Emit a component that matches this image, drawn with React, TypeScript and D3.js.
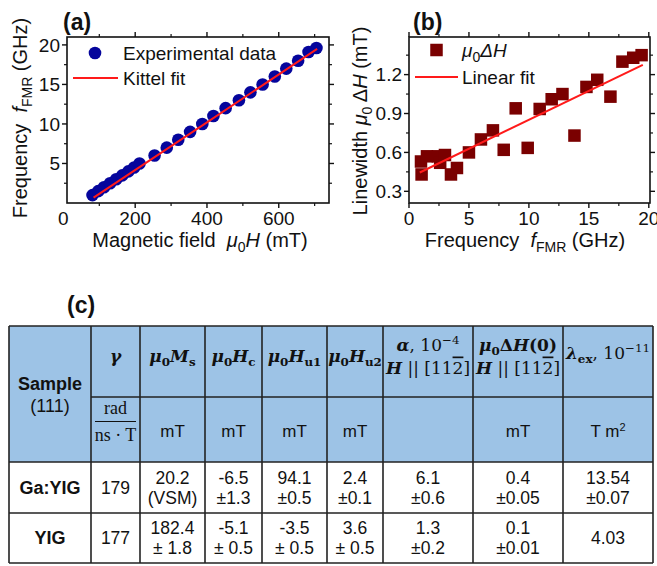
import React from "react"
import * as d3 from "d3"

// panel (a): FMR frequency vs field
const fieldA = [81, 97, 113, 130, 147, 164, 181, 197, 212, 254, 288, 320, 353, 387, 418, 452, 489, 521, 555, 589, 621, 654, 683, 705]
const freqA = [1, 1.5, 2, 2.5, 3, 3.5, 4, 4.5, 5, 6, 7, 8, 9, 10, 11, 12, 13, 14, 15, 16, 17, 18, 19.1, 19.6]
const kittelField = [84, 400, 707]
const kittelFreq = [0.67, 10.2, 19.5]
const xTicksA = [0, 200, 400, 600]
const yTicksA = [5, 10, 15, 20]

// panel (b): linewidth vs frequency
const freqB = [1, 1.05, 1.5, 2.4, 2.6, 3, 3.5, 4, 5, 6, 7, 7.9, 8.9, 9.9, 10.9, 11.9, 12.8, 13.8, 14.8, 15.7, 16.8, 17.8, 18.7, 19.4]
const lwB = [0.53, 0.43, 0.57, 0.57, 0.52, 0.58, 0.43, 0.48, 0.6, 0.7, 0.77, 0.62, 0.94, 0.635, 0.935, 1.01, 1.05, 0.73, 1.105, 1.16, 1.03, 1.3, 1.33, 1.35]
const fitFreqB = [0.9, 19.5]
const fitLwB = [0.445, 1.275]
const xTicksB = [0, 5, 10, 15, 20]
const yTicksB = [0.3, 0.6, 0.9, 1.2]

// panel (c): table
const sampleNames = ["Ga:YIG", "YIG"]
const gaYig = [["179"], ["20.2", "(VSM)"], ["-6.5", "±1.3"], ["94.1", "±0.5"], ["2.4", "±0.1"], ["6.1", "±0.6"], ["0.4", "±0.05"], ["13.54", "±0.07"]]
const yig = [["177"], ["182.4", "± 1.8"], ["-5.1", "± 0.5"], ["-3.5", "± 0.5"], ["3.6", "± 0.5"], ["1.3", "±0.2"], ["0.1", "±0.01"], ["4.03"]]
const units = ["", "mT", "mT", "mT", "mT", "", "mT", "T m²"]

const SANS = "'Liberation Sans', Arial, sans-serif"
const SERIF = "'Liberation Serif', 'Times New Roman', serif"
const MATH = "'DejaVu Serif', serif"
const BLUE = "#05059c"
const MAROON = "#7a0000"
const RED = "#ff1a1a"
const HEAD = "#9dc3e6"

const Axes = ({ x, y, xTicks, yTicks, xMinor, yMinor, xFmt, yFmt }: any) => {
  const [x0, x1] = x.range()
  const [y0, y1] = y.range()
  const tk = 5
  return (
    <g fontFamily={SANS} fontSize={19} fill="#111">
      {yMinor.map((v: number) => (
        <g key={"ym" + v}>
          <line x1={x0} x2={x0 - 3} y1={y(v)} y2={y(v)} stroke="#111" strokeWidth={1.2} />
          <line x1={x1} x2={x1 + 3} y1={y(v)} y2={y(v)} stroke="#111" strokeWidth={1.2} />
        </g>
      ))}
      {xMinor.map((v: number) => (
        <g key={"xm" + v}>
          <line x1={x(v)} x2={x(v)} y1={y0} y2={y0 + 3} stroke="#111" strokeWidth={1.2} />
          <line x1={x(v)} x2={x(v)} y1={y1} y2={y1 - 3} stroke="#111" strokeWidth={1.2} />
        </g>
      ))}
      {yTicks.map((v: number) => (
        <g key={"y" + v}>
          <line x1={x0} x2={x0 - tk} y1={y(v)} y2={y(v)} stroke="#111" strokeWidth={1.4} />
          <line x1={x1} x2={x1 + tk} y1={y(v)} y2={y(v)} stroke="#111" strokeWidth={1.4} />
          <text x={x0 - 7} y={y(v)} dy="0.35em" textAnchor="end">{yFmt(v)}</text>
        </g>
      ))}
      {xTicks.map((v: number) => (
        <g key={"x" + v}>
          {x(v) >= x0 - 0.5 && (
            <>
              <line x1={x(v)} x2={x(v)} y1={y0} y2={y0 + tk} stroke="#111" strokeWidth={1.4} />
              <line x1={x(v)} x2={x(v)} y1={y1} y2={y1 - tk} stroke="#111" strokeWidth={1.4} />
            </>
          )}
          <text x={x(v)} y={y0 + 22} textAnchor="middle">{xFmt(v)}</text>
        </g>
      ))}
      <rect x={x0} y={y1} width={x1 - x0} height={y0 - y1} fill="none" stroke="#111" strokeWidth={1.6} />
    </g>
  )
}

const PanelA = () => {
  const x = d3.scaleLinear().domain([10, 740]).range([67, 329])
  const y = d3.scaleLinear().domain([0, 21]).range([203, 37])
  const line = d3.line<number>().x((d, i) => x(kittelField[i])).y((d) => y(d))
  return (
    <g>
      <Axes x={x} y={y} xTicks={xTicksA} yTicks={yTicksA}
        xMinor={[100, 300, 500, 700]} yMinor={[2.5, 7.5, 12.5, 17.5]}
        xFmt={(v: number) => String(v)} yFmt={(v: number) => String(v)} />
      {freqA.map((f, i) => (
        <circle key={i} cx={x(fieldA[i])} cy={y(f)} r={6.3} fill={BLUE} />
      ))}
      <path d={line(kittelFreq) || ""} fill="none" stroke={RED} strokeWidth={2} />
      <circle cx={95} cy={53} r={6.3} fill={BLUE} />
      <text x={123} y={59.5} fontFamily={SANS} fontSize={19} fill="#111">Experimental data</text>
      <line x1={73} x2={118} y1={78} y2={78} stroke={RED} strokeWidth={2} />
      <text x={123} y={84.5} fontFamily={SANS} fontSize={19} fill="#111">Kittel fit</text>
      <text x={200} y={247} textAnchor="middle" fontFamily={SANS} fontSize={20} fill="#111">
        Magnetic field{"\u00a0\u00a0"}<tspan fontStyle="italic">μ</tspan><tspan fontSize={14} dy={5}>0</tspan><tspan dy={-5} fontStyle="italic">H</tspan> (mT)
      </text>
      <text transform="translate(27,118) rotate(-90)" textAnchor="middle" fontFamily={SANS} fontSize={20} fill="#111">
        Frequency{"\u00a0\u00a0"}<tspan fontStyle="italic">f</tspan><tspan fontSize={14} dy={5}>FMR</tspan><tspan dy={-5}> (GHz)</tspan>
      </text>
      <text x={63} y={30} fontFamily={SANS} fontWeight="bold" fontSize={23} fill="#111">(a)</text>
    </g>
  )
}

const PanelB = () => {
  const x = d3.scaleLinear().domain([0, 20.1]).range([409, 650])
  const y = d3.scaleLinear().domain([0.21, 1.49]).range([203, 37])
  const line = d3.line<number>().x((d, i) => x(fitFreqB[i])).y((d) => y(d))
  const s = 12.5
  return (
    <g>
      <Axes x={x} y={y} xTicks={xTicksB} yTicks={yTicksB}
        xMinor={[2.5, 7.5, 12.5, 17.5]} yMinor={[0.45, 0.75, 1.05, 1.35]}
        xFmt={(v: number) => String(v)} yFmt={(v: number) => d3.format(".1f")(v)} />
      {freqB.map((f, i) => (
        <rect key={i} x={x(f) - s / 2} y={y(lwB[i]) - s / 2} width={s} height={s} fill={MAROON} />
      ))}
      <path d={line(fitLwB) || ""} fill="none" stroke={RED} strokeWidth={2} />
      <rect x={436.5 - s / 2} y={50 - s / 2} width={s} height={s} fill={MAROON} />
      <text x={462} y={56.5} fontFamily={SANS} fontSize={19} fill="#111" fontStyle="italic">
        μ<tspan fontSize={14} dy={5} fontStyle="normal">0</tspan><tspan dy={-5}>ΔH</tspan>
      </text>
      <line x1={415} x2={458} y1={77} y2={77} stroke={RED} strokeWidth={2} />
      <text x={462} y={83.5} fontFamily={SANS} fontSize={19} fill="#111">Linear fit</text>
      <text x={525} y={247} textAnchor="middle" fontFamily={SANS} fontSize={20} fill="#111">
        Frequency{"\u00a0\u00a0"}<tspan fontStyle="italic">f</tspan><tspan fontSize={14} dy={5}>FMR</tspan><tspan dy={-5}> (GHz)</tspan>
      </text>
      <text transform="translate(367,121) rotate(-90)" textAnchor="middle" fontFamily={SANS} fontSize={20} fill="#111">
        Linewidth <tspan fontStyle="italic">μ</tspan><tspan fontSize={14} dy={5}>0</tspan><tspan dy={-5}> Δ</tspan><tspan fontStyle="italic">H</tspan> (mT)
      </text>
      <text x={413} y={30} fontFamily={SANS} fontWeight="bold" fontSize={23} fill="#111">(b)</text>
    </g>
  )
}

// header label in math style: parts carry text plus italic / sub / sup flags
const MathLabel = ({ cx, cy, parts, size = 17 }: any) => {
  let shift = 0
  return (
    <text x={cx} y={cy} dy="0.35em" textAnchor="middle" fontFamily={MATH} fontSize={size} fill="#111">
      {parts.map((p: any, i: number) => {
        const target = p.sub ? 4 : p.sup ? -7 : 0
        const dy = target - shift
        shift = target
        return (
          <tspan key={i} dy={dy} fontWeight={p.bold === false ? "normal" : "bold"}
            fontStyle={p.it ? "italic" : "normal"}
            fontSize={p.sub || p.sup ? size * 0.7 : size}
            textDecoration={p.over ? "overline" : undefined}>{p.t}</tspan>
        )
      })}
    </text>
  )
}

const TablePanel = () => {
  const colX = [9, 91, 140, 205, 262, 327, 383, 473, 563, 653]
  const rowY = [326, 397, 462, 513, 563]
  const cx = (i: number) => (colX[i] + colX[i + 1]) / 2
  const h1 = (rowY[0] + rowY[1]) / 2
  const headers: any[] = [
    [[{ t: "γ", it: true }]],
    [[{ t: "μ", it: true }, { t: "0", sub: true }, { t: "M", it: true }, { t: "s", sub: true }]],
    [[{ t: "μ", it: true }, { t: "0", sub: true }, { t: "H", it: true }, { t: "c", sub: true }]],
    [[{ t: "μ", it: true }, { t: "0", sub: true }, { t: "H", it: true }, { t: "u1", sub: true }]],
    [[{ t: "μ", it: true }, { t: "0", sub: true }, { t: "H", it: true }, { t: "u2", sub: true }]],
    [[{ t: "α", it: true }, { t: ", 10", bold: false }, { t: "−4", sup: true, bold: false }],
     [{ t: "H", it: true }, { t: " || [11", bold: false }, { t: "2", bold: false, over: true }, { t: "]", bold: false }]],
    [[{ t: "μ", it: true }, { t: "0", sub: true }, { t: "Δ" }, { t: "H", it: true }, { t: "(0)" }],
     [{ t: "H", it: true }, { t: " || [11", bold: false }, { t: "2", bold: false, over: true }, { t: "]", bold: false }]],
    [[{ t: "λ", it: true }, { t: "ex", sub: true }, { t: ", 10", bold: false }, { t: "−11", sup: true, bold: false }]],
  ]
  const dataRows = [gaYig, yig]
  return (
    <g>
      <rect x={colX[0]} y={rowY[0]} width={colX[9] - colX[0]} height={rowY[2] - rowY[0]} fill={HEAD} />
      <rect x={colX[0]} y={rowY[2]} width={colX[9] - colX[0]} height={rowY[4] - rowY[2]} fill="#fff" />
      {rowY.map((yy, i) => (
        <line key={"r" + i} x1={i === 1 ? colX[1] : colX[0]} x2={colX[9]} y1={yy} y2={yy} stroke="#222" strokeWidth={1.6} />
      ))}
      {colX.map((xx, i) => (
        <line key={"c" + i} x1={xx} x2={xx} y1={rowY[0]} y2={rowY[4]} stroke="#222" strokeWidth={1.6} />
      ))}
      <text x={cx(0)} y={384} dy="0.35em" textAnchor="middle" fontFamily={SANS} fontWeight="bold" fontSize={18} fill="#111">Sample</text>
      <text x={cx(0)} y={406} dy="0.35em" textAnchor="middle" fontFamily={SANS} fontSize={18} fill="#111">(111)</text>
      {headers.map((lines, j) => (
        <g key={"h" + j}>
          {lines.map((parts: any, k: number) => (
            <MathLabel key={k} cx={cx(j + 1)} cy={lines.length === 1 ? (j === 7 ? h1 - 3 : h1) : h1 + (k === 0 ? -11 : 12)} parts={parts} />
          ))}
        </g>
      ))}
      <g fontFamily={SERIF} fontSize={18} fill="#111" textAnchor="middle">
        <text x={cx(1)} y={408} dy="0.35em">rad</text>
        <line x1={colX[1] + 4} x2={colX[2] - 4} y1={421.5} y2={421.5} stroke="#111" strokeWidth={1.2} />
        <text x={cx(1)} y={435} dy="0.35em">ns · T</text>
      </g>
      {units.map((u, j) => u && (
        <text key={"u" + j} x={cx(j + 1)} y={431} dy="0.35em" textAnchor="middle" fontFamily={SANS} fontSize={17} fill="#111">
          {u === "T m²" ? <>T m<tspan fontSize={11} dy={-6}>2</tspan></> : u}
        </text>
      ))}
      {dataRows.map((row, r) => {
        const mid = (rowY[2 + r] + rowY[3 + r]) / 2
        return (
          <g key={"d" + r} fontFamily={SANS} fill="#111" textAnchor="middle">
            <text x={cx(0)} y={mid} dy="0.35em" fontWeight="bold" fontSize={18}>{sampleNames[r]}</text>
            {row.map((cell, j) => cell.map((t, k) => (
              <text key={j + "-" + k} x={cx(j + 1)} y={cell.length === 1 ? mid : mid + (k === 0 ? -10 : 10)} dy="0.35em" fontSize={17.5}>{t}</text>
            )))}
          </g>
        )
      })}
      <text x={67} y={313} fontFamily={SANS} fontWeight="bold" fontSize={23} fill="#111">(c)</text>
    </g>
  )
}

export default function App() {
  return (
    <svg width={657} height={566} style={{ position: "absolute", left: 0, top: 0, background: "#fff" }}>
      <PanelA />
      <PanelB />
      <TablePanel />
    </svg>
  )
}
